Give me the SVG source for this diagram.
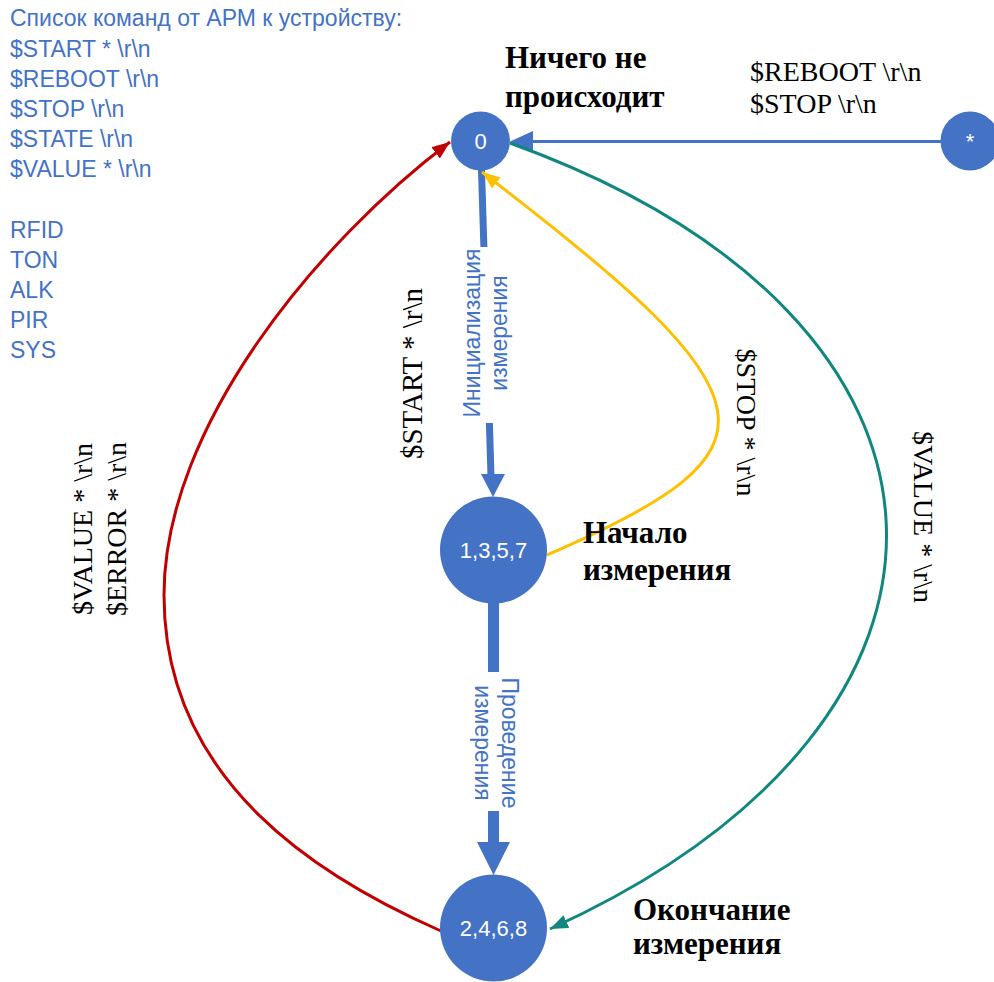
<svg xmlns="http://www.w3.org/2000/svg" width="994" height="982" viewBox="0 0 994 982">
  <defs>
    <style>
      .node { fill: #4472C4; }
      .nlabel { font-family: "Liberation Sans", Arial, sans-serif; font-size: 22px; fill: #FFFFFF; text-anchor: middle; }
      .blue { font-family: "Liberation Sans", Arial, sans-serif; font-size: 23px; fill: #4472C4; }
      .serif { font-family: "Liberation Serif", "Times New Roman", serif; font-size: 28px; fill: #000000; }
      .bold { font-family: "Liberation Serif", "Times New Roman", serif; font-size: 31px; font-weight: bold; fill: #000000; }
      .mid { text-anchor: middle; }
      .curve { fill: none; stroke-width: 3; }
    </style>
    <marker id="arrRed" markerUnits="userSpaceOnUse" markerWidth="20" markerHeight="16" refX="18" refY="7" orient="auto">
      <path d="M0,0 L18,7 L0,14 z" fill="#C00000"/>
    </marker>
    <marker id="arrTeal" markerUnits="userSpaceOnUse" markerWidth="20" markerHeight="16" refX="18" refY="7" orient="auto">
      <path d="M0,0 L18,7 L0,14 z" fill="#11877F"/>
    </marker>
    <marker id="arrYellow" markerUnits="userSpaceOnUse" markerWidth="20" markerHeight="16" refX="18" refY="7" orient="auto">
      <path d="M0,0 L18,7 L0,14 z" fill="#FFC000"/>
    </marker>
  </defs>
  <rect width="994" height="982" fill="#FFFFFF"/>

  <g id="command-list" class="blue">
    <text x="10" y="26">Список команд от АРМ к устройству:</text>
    <text x="10" y="57">$START * \r\n</text>
    <text x="10" y="87">$REBOOT \r\n</text>
    <text x="10" y="117">$STOP \r\n</text>
    <text x="10" y="147">$STATE \r\n</text>
    <text x="10" y="177">$VALUE * \r\n</text>
    <text x="10" y="238">RFID</text>
    <text x="10" y="268">TON</text>
    <text x="10" y="298">ALK</text>
    <text x="10" y="328">PIR</text>
    <text x="10" y="358">SYS</text>
  </g>

  <g id="connectors">
    <!-- * to 0 -->
    <line x1="941" y1="141.5" x2="530" y2="141.5" stroke="#4472C4" stroke-width="3"/>
    <polygon points="510,141.5 533,131 533,152" fill="#4472C4"/>
    <!-- 0 to 1,3,5,7 -->
    <line x1="481.5" y1="170" x2="483.9" y2="247" stroke="#4472C4" stroke-width="7"/>
    <line x1="489.4" y1="423" x2="491" y2="476" stroke="#4472C4" stroke-width="7"/>
    <polygon points="481,474 505,474 493,497" fill="#4472C4"/>
    <!-- 1,3,5,7 to 2,4,6,8 -->
    <line x1="493.5" y1="600" x2="493.5" y2="672" stroke="#4472C4" stroke-width="11"/>
    <line x1="493.5" y1="811" x2="493.5" y2="844" stroke="#4472C4" stroke-width="11"/>
    <polygon points="477,842 510,842 493.5,875" fill="#4472C4"/>
    <!-- 2,4,6,8 to 0 (red) -->
    <path class="curve" stroke="#C00000" d="M 441 931 C 325 880, 164 785, 164 595 C 164 425, 320 240, 450 142" marker-end="url(#arrRed)"/>
    <!-- 0 to 2,4,6,8 (teal) -->
    <path class="curve" stroke="#11877F" d="M 510 143 C 1000 320, 1010 720, 550 929" marker-end="url(#arrTeal)"/>
    <!-- 1,3,5,7 to 0 (yellow) -->
    <path class="curve" stroke="#FFC000" d="M 547 555 C 790 450, 780 400, 482 172" marker-end="url(#arrYellow)"/>

    <!-- edge labels -->
    <text class="serif" x="750" y="81">$REBOOT \r\n</text>
    <text class="serif" x="750" y="113">$STOP \r\n</text>
    <g transform="translate(422,373.5) rotate(-90)">
      <text class="serif mid" x="0" y="0" style="font-size:29px">$START * \r\n</text>
    </g>
    <g transform="translate(480,333) rotate(-90)">
      <text class="blue mid" x="0" y="0">Инициализация</text>
      <text class="blue mid" x="0" y="27">измерения</text>
    </g>
    <g transform="translate(502,743) rotate(90)">
      <text class="blue mid" x="0" y="0">Проведение</text>
      <text class="blue mid" x="0" y="27">измерения</text>
    </g>
    <g transform="translate(92,529) rotate(-90)">
      <text class="serif mid" x="0" y="0">$VALUE * \r\n</text>
      <text class="serif mid" x="0" y="34">$ERROR * \r\n</text>
    </g>
    <g transform="translate(914,517) rotate(90)">
      <text class="serif mid" x="0" y="0">$VALUE * \r\n</text>
    </g>
    <g transform="translate(736.5,422.5) rotate(90)">
      <text class="serif mid" x="0" y="0">$STOP * \r\n</text>
    </g>
  </g>

  <g id="node-0">
    <circle class="node" cx="480.5" cy="141" r="29.5"/>
    <text class="nlabel" x="480.5" y="149">0</text>
    <text class="bold" x="505" y="68">Ничего не</text>
    <text class="bold" x="505" y="107">происходит</text>
  </g>
  <g id="node-any">
    <circle class="node" cx="970" cy="141" r="29.5"/>
    <text class="nlabel" x="970" y="149">*</text>
  </g>
  <g id="node-1357">
    <circle class="node" cx="493.5" cy="550" r="53.5"/>
    <text class="nlabel" x="493.5" y="558">1,3,5,7</text>
    <text class="bold" x="583" y="543">Начало</text>
    <text class="bold" x="583" y="580">измерения</text>
  </g>
  <g id="node-2468">
    <circle class="node" cx="493.5" cy="928" r="53.5"/>
    <text class="nlabel" x="493.5" y="936">2,4,6,8</text>
    <text class="bold" x="633" y="920">Окончание</text>
    <text class="bold" x="633" y="954">измерения</text>
  </g>
</svg>
